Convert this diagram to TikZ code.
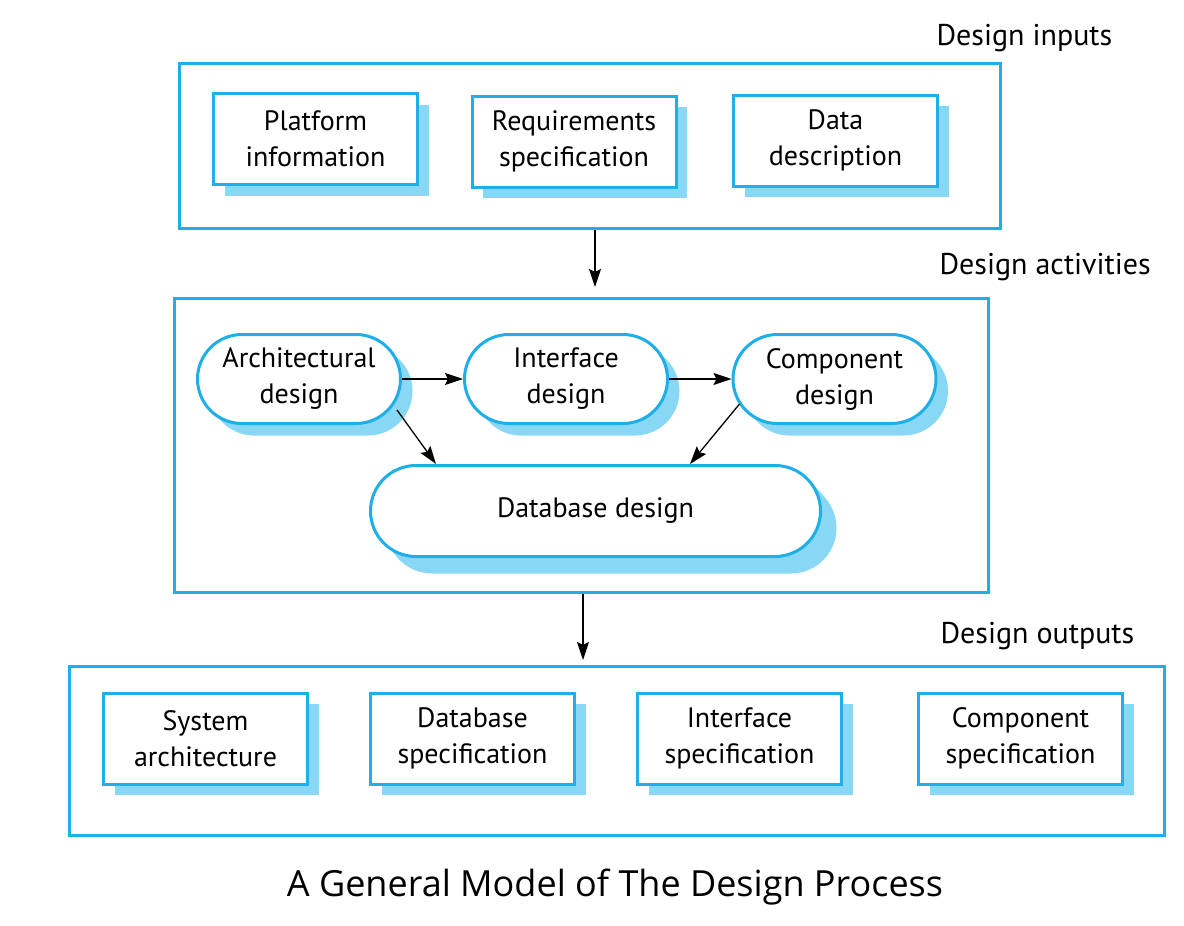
\documentclass[tikz,border=0pt]{standalone}
\usepackage{fontspec}
\setmainfont{PT Sans}
\newfontfamily\titlefont{Open Sans}
\usetikzlibrary{shapes.misc,shadows,arrows.meta,calc}
\definecolor{bblue}{RGB}{30,174,232}
\definecolor{sblue}{RGB}{135,215,245}
\begin{document}
\begin{tikzpicture}[x=1pt,y=-1pt,
  txt/.style={font=\fontsize{28}{36}\selectfont, align=center, text=black},
  group/.style={draw=bblue, line width=3pt, inner sep=0pt},
  itembox/.style={txt, rectangle, draw=bblue, line width=3pt, fill=white, inner sep=0pt,
     minimum width=204pt, minimum height=91pt,
     drop shadow={shadow xshift=11pt, shadow yshift=-11pt, opacity=1, fill=sblue}},
  pill/.style={txt, rounded rectangle, draw=bblue, line width=3pt, fill=white, inner sep=0pt,
     minimum width=203pt, minimum height=89pt,
     drop shadow={shadow xshift=12pt, shadow yshift=-12pt, opacity=1, fill=sblue}},
  grplabel/.style={font=\fontsize{30}{36}\selectfont, anchor=west, text=black},
  arr/.style={-{Stealth[length=18pt,width=12pt,inset=3pt]}, line width=1.3pt, black}
]
\useasboundingbox (0,0) rectangle (1184,926);

% group boxes
\node[group, minimum width=821pt, minimum height=165pt] (inputs) at (590,146) {};
\node[group, minimum width=814pt, minimum height=294pt] (activities) at (581.5,445.5) {};
\node[group, minimum width=1095pt, minimum height=169pt] (outputs) at (617,751) {};

% group labels
\node[grplabel] (linputs) at (933,38) {Design inputs};
\node[grplabel] (lactivities) at (936,267) {Design activities};
\node[grplabel] (loutputs) at (937,636) {Design outputs};

% inputs
\node[itembox] (platform) at (315.5,139) {Platform\\information};
\node[itembox] (reqs) at (574,141.5) {Requirements\\specification};
\node[itembox] (data) at (835.5,140.5) {Data\\description};

% activities
\node[pill] (arch) at (299,379) {Architectural\\design};
\node[pill] (iface) at (566,379) {Interface\\design};
\node[pill] (comp) at (834.5,379) {Component\\design};
\node[pill, minimum width=450pt, minimum height=91pt,
      drop shadow={shadow xshift=16pt, shadow yshift=-17pt, opacity=1, fill=sblue}] (db) at (595.5,511) {Database design};

% outputs
\node[itembox] (sysarch) at (205.5,738.5) {System\\architecture};
\node[itembox] (dbspec) at (472.5,738.5) {Database\\specification};
\node[itembox] (ifspec) at (739.5,738.5) {Interface\\specification};
\node[itembox] (compspec) at (1020.5,738.5) {Component\\specification};

% title
\node[font=\titlefont\fontsize{36}{42}\selectfont, text=black] (title) at (615,887) {A General Model of The Design Process};

% connectors
\coordinate (a1end) at (595,287);
\coordinate (a2end) at (583,660);
\draw[arr] (inputs.south -| a1end) -- (a1end);
\draw[arr] (activities.south -| a2end) -- (a2end);
\draw[arr] (arch.east) -- (iface.west);
\draw[arr] (iface.east) -- (comp.west);
\draw[arr] ($(arch.center)+(98,31)$) -- ($(db.north)+(-159.5,0)$);
\draw[arr] ($(comp.center)+(-95,25)$) -- ($(db.north)+(94.5,0)$);
\end{tikzpicture}
\end{document}
